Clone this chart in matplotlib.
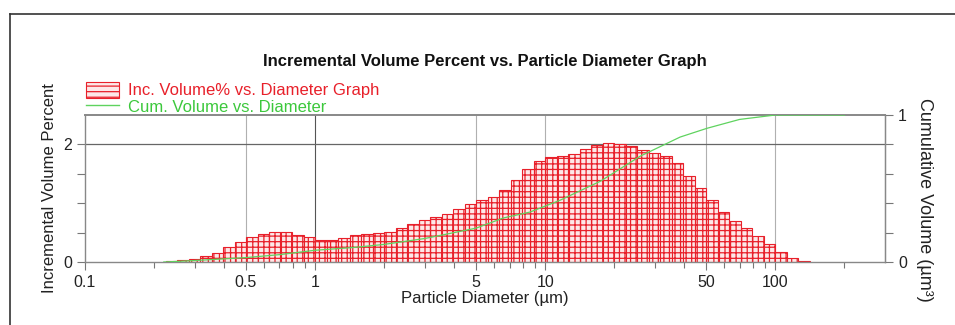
import numpy as np
import matplotlib
matplotlib.use("Agg")
import matplotlib.pyplot as plt
from matplotlib.patches import Patch
from matplotlib.lines import Line2D

plt.rcParams["font.family"] = ["Liberation Sans", "DejaVu Sans"]
plt.rcParams["hatch.linewidth"] = 0.9

RED = "#e8202a"
GREEN = "#5fd35f"
plt.rcParams["hatch.color"] = RED

# bin edges on a log scale, 20 bins per decade (exponent/20)
BIN_START = -13
inc_volume = [
    0.01, 0.03, 0.05, 0.10, 0.16, 0.25, 0.34, 0.42, 0.48, 0.51,
    0.51, 0.46, 0.42, 0.38, 0.37, 0.41, 0.46, 0.48, 0.49, 0.51,
    0.58, 0.65, 0.72, 0.77, 0.82, 0.90, 0.99, 1.05, 1.10, 1.22,
    1.40, 1.58, 1.71, 1.79, 1.80, 1.83, 1.92, 1.99, 2.02, 2.01,
    1.97, 1.91, 1.86, 1.80, 1.68, 1.47, 1.26, 1.05, 0.85, 0.70,
    0.58, 0.44, 0.30, 0.17, 0.07, 0.02,
]

cum_diam = [0.22, 0.3, 0.5, 0.7, 1.0, 1.5, 2.0, 3.0, 5.0, 6.6, 8.6, 11.6,
            17.4, 25.9, 38.6, 50.6, 70, 100, 200]
cum_volume = [0.0, 0.01, 0.03, 0.05, 0.08, 0.10, 0.12, 0.16, 0.23, 0.30,
              0.34, 0.42, 0.55, 0.72, 0.85, 0.91, 0.97, 1.0, 1.0]

x_major = [0.1, 0.5, 1, 5, 10, 50, 100]
x_labels = ["0.1", "0.5", "1", "5", "10", "50", "100"]
x_minor = [0.2, 0.3, 0.4, 0.6, 0.7, 0.8, 0.9, 2, 3, 4, 6, 7, 8, 9,
           20, 30, 40, 60, 70, 80, 90, 200]

fig = plt.figure(figsize=(9.55, 3.25), dpi=100)
ax = fig.add_axes([0.089, 0.1938, 0.8377, 0.4523])

k = np.arange(BIN_START, BIN_START + len(inc_volume))
left_edges = 10 ** (k / 20)
right_edges = 10 ** ((k + 1) / 20)
ax.bar(left_edges, inc_volume, width=right_edges - left_edges, align="edge",
       facecolor="#fde8e8", edgecolor=RED, linewidth=0.8, hatch="+++", zorder=2)

ax.set_xscale("log")
ax.set_xlim(0.1, 300)
ax.set_ylim(0, 2.5)
ax.set_xticks(x_major)
ax.set_xticklabels(x_labels)
ax.set_xticks(x_minor, minor=True)
ax.xaxis.set_minor_formatter(plt.NullFormatter())
ax.set_yticks([0, 0.5, 1, 1.5, 2])
ax.set_yticklabels(["0", "", "", "", "2"])

for xv in x_major[1:]:
    ax.axvline(xv, color="#555555" if xv == 1 else "#b0b0b0", lw=0.8, zorder=1)
ax.axhline(2, color="#666666", lw=0.9, zorder=1)

for s in ax.spines.values():
    s.set_color("#888888")
    s.set_linewidth(1.0)
ax.spines["top"].set_linewidth(1.4)
ax.tick_params(axis="both", colors="#777777", labelcolor="#222222",
               labelsize=11.5, length=6, width=0.8)
ax.tick_params(axis="x", which="minor", colors="#777777", length=4, width=0.8)
ax.tick_params(axis="x", pad=3)

ax.set_xlabel("Particle Diameter (µm)", fontsize=12, color="#222222", labelpad=1)
ax.set_ylabel("Incremental Volume Percent", fontsize=12, color="#222222", labelpad=4)

ax2 = ax.twinx()
ax2.plot(cum_diam, cum_volume, color=GREEN, lw=0.9, zorder=3)
ax2.set_ylim(0, 1)
ax2.set_yticks([0, 0.2, 0.4, 0.6, 0.8, 1.0])
ax2.set_yticklabels(["0", "", "", "", "", "1"])
for s in ax2.spines.values():
    s.set_visible(False)
ax2.spines["right"].set_visible(True)
ax2.spines["right"].set_color("#888888")
ax2.tick_params(axis="y", colors="#777777", labelcolor="#222222",
                labelsize=11.5, length=6, width=0.8)
ax2.set_ylabel("Cumulative Volume (µm³)", fontsize=13, color="#222222",
               rotation=-90, va="center")
ax2.yaxis.set_label_coords(1.05, 0.42)

fig.text(0.508, 0.812, "Incremental Volume Percent vs. Particle Diameter Graph",
         ha="center", va="center", fontsize=12, fontweight="bold", color="#111111")

handles = [Patch(facecolor="#fde8e8", edgecolor=RED, hatch="---", linewidth=0.8),
           Line2D([0], [0], color=GREEN, lw=1.0)]
leg = fig.legend(handles, ["Inc. Volume% vs. Diameter Graph", "Cum. Volume vs. Diameter"],
                 loc="upper left", bbox_to_anchor=(0.078, 0.785), frameon=False,
                 fontsize=12, handlelength=2.0, handleheight=1.1,
                 handletextpad=0.5, labelspacing=0.0, borderpad=0.2)
for txt, c in zip(leg.get_texts(), [RED, "#3cc83c"]):
    txt.set_color(c)

# outer frame of the original image
fig.add_artist(Line2D([0.0105, 0.0105], [0, 0.957], transform=fig.transFigure,
                      color="#333333", lw=1.2))
fig.add_artist(Line2D([0.0105, 1.0], [0.957, 0.957], transform=fig.transFigure,
                      color="#333333", lw=1.2))

fig.savefig("out.png", dpi=100)
